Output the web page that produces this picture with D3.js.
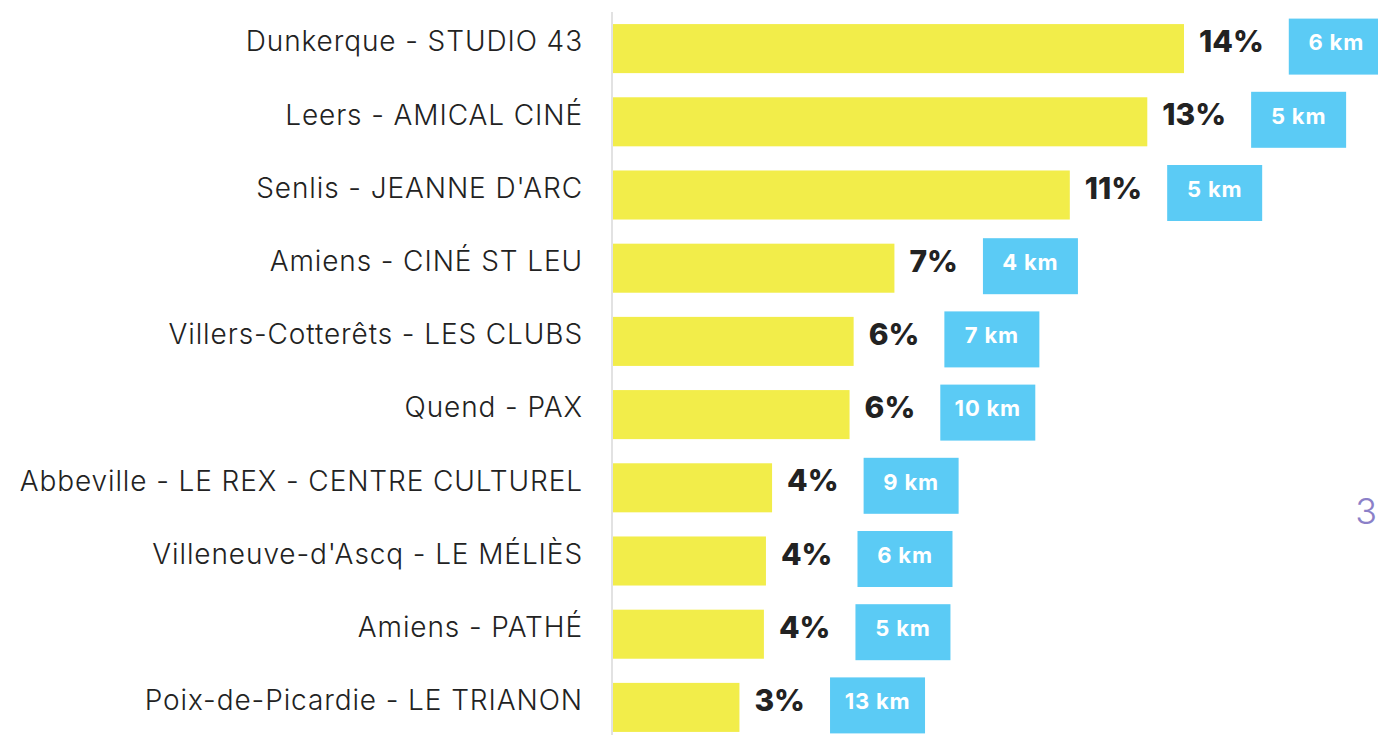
<!DOCTYPE html>
<html lang="fr">
<head>
<meta charset="utf-8">
<script src="https://d3js.org/d3.v7.min.js"></script>
<style>
  body { margin: 0; background: #fff; }
</style>
</head>
<body>
<div id="chart"></div>
<script>

// data
var cinemas = [
  "Dunkerque - STUDIO 43",
  "Leers - AMICAL CINÉ",
  "Senlis - JEANNE D'ARC",
  "Amiens - CINÉ ST LEU",
  "Villers-Cotterêts - LES CLUBS",
  "Quend - PAX",
  "Abbeville - LE REX - CENTRE CULTUREL",
  "Villeneuve-d'Ascq - LE MÉLIÈS",
  "Amiens - PATHÉ",
  "Poix-de-Picardie - LE TRIANON"
];
var shares = [14.0, 13.1, 11.2, 6.9, 5.9, 5.8, 3.9, 3.75, 3.7, 3.1];
var shareLabels = ["14%", "13%", "11%", "7%", "6%", "6%", "4%", "4%", "4%", "3%"];
var distances = ["6 km", "5 km", "5 km", "4 km", "7 km", "10 km", "9 km", "6 km", "5 km", "13 km"];

var width = 1378, height = 735;

var svg = d3.select("#chart")
  .append("svg")
    .attr("width", width)
    .attr("height", height);

var x = d3.scaleLinear()
  .domain([0, 14])
  .range([613, 1184]);

var y = d3.scaleBand()
  .domain(cinemas)
  .range([12, 744])
  .paddingInner(0.33)
  .paddingOuter(0.165);

// left axis line
svg.append("line")
  .attr("x1", 612).attr("x2", 612)
  .attr("y1", 12).attr("y2", height)
  .attr("stroke", "#e2e2e2")
  .attr("stroke-width", 2);

var rows = svg.selectAll(".row")
  .data(cinemas)
  .enter()
  .append("g")
    .attr("class", "row");

// cinema names
rows.append("text")
  .attr("x", 583)
  .attr("y", function(d) { return y(d) + y.bandwidth() / 2 - 7; })
  .attr("dy", "0.35em")
  .attr("text-anchor", "end")
  .style("font-family", "Inter, 'Noto Sans', sans-serif")
  .style("font-weight", 300)
  .style("font-size", "28px")
  .style("letter-spacing", "0.9px")
  .style("fill", "#222")
  .text(function(d) { return d; });

// bars
rows.append("rect")
  .attr("x", x(0))
  .attr("y", function(d) { return y(d); })
  .attr("width", function(d, i) { return x(shares[i]) - x(0); })
  .attr("height", y.bandwidth())
  .style("fill", "#f2ed4a");

// share labels
var pct = rows.append("text")
  .attr("x", function(d, i) { return x(shares[i]) + 15; })
  .attr("y", function(d) { return y(d) + y.bandwidth() / 2 - 7; })
  .attr("dy", "0.35em")
  .style("font-family", "Inter, 'Noto Sans', sans-serif")
  .style("font-weight", 800)
  .style("font-size", "30px")
  .style("fill", "#222")
  .text(function(d, i) { return shareLabels[i]; });

// distance boxes
pct.each(function(d, i) {
  var bx = x(shares[i]) + 15 + this.getComputedTextLength() + 25;
  var g = d3.select(this.parentNode);
  g.append("rect")
    .attr("x", bx)
    .attr("y", y(d) + y.bandwidth() / 2 - 30)
    .attr("width", 95)
    .attr("height", 56)
    .style("fill", "#5bcbf5");
  g.append("text")
    .attr("x", bx + 47.5)
    .attr("y", y(d) + y.bandwidth() / 2 - 6)
    .attr("dy", "0.35em")
    .attr("text-anchor", "middle")
    .style("font-family", "Inter, 'Noto Sans', sans-serif")
    .style("font-weight", 700)
    .style("font-size", "22px")
    .style("letter-spacing", "0.8px")
    .style("fill", "#fff")
    .text(distances[i]);
});

// page number
svg.append("text")
  .attr("x", 1377)
  .attr("y", 524)
  .attr("text-anchor", "end")
  .style("font-family", "Inter, 'Noto Sans', sans-serif")
  .style("font-weight", 300)
  .style("font-size", "36px")
  .style("fill", "#8b80c8")
  .text("3");

</script>
</body>
</html>
